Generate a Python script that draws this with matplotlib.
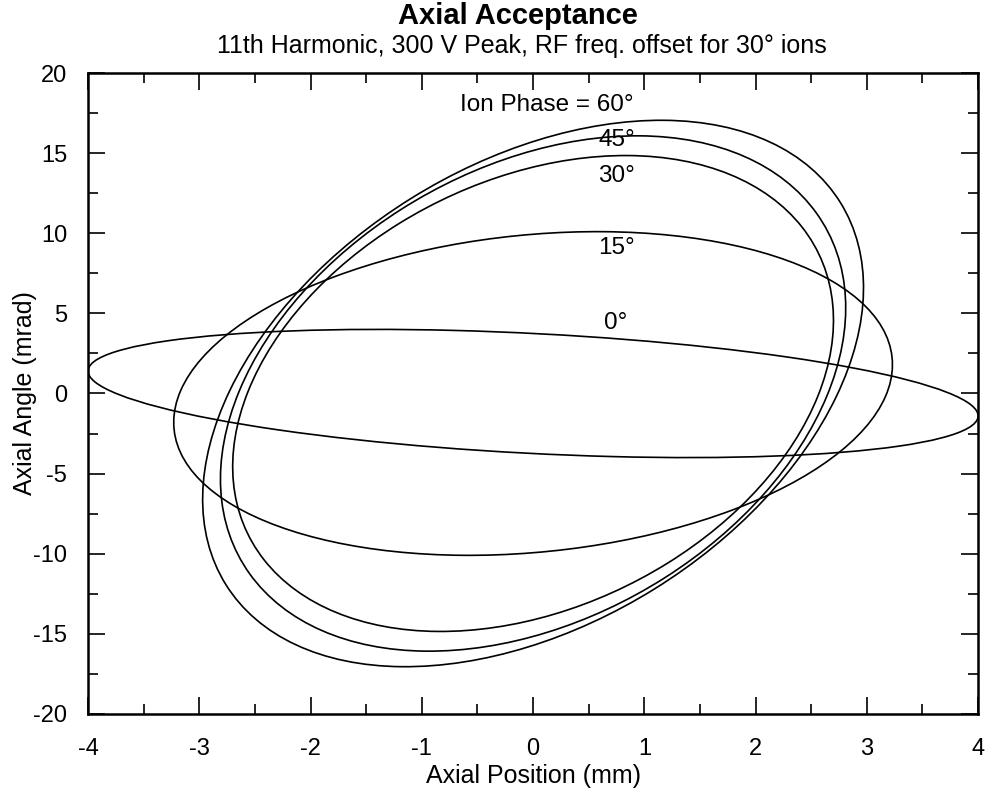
import numpy as np
import matplotlib
matplotlib.use("Agg")
import matplotlib.pyplot as plt
from matplotlib.patches import Ellipse
from matplotlib.ticker import MultipleLocator

plt.rcParams['font.family'] = ['Liberation Sans', 'DejaVu Sans']
plt.rcParams['axes.unicode_minus'] = False

# === Elipses de aceptancia ===
# fase del ion (grados)
fases = [0, 15, 30, 45, 60]
# x maximo (mm), y maximo (mrad), y en el punto de x maximo (mrad)
x_max = [4.00, 3.23, 2.70, 2.81, 2.97]
y_max = [4.00, 10.10, 14.85, 16.08, 17.05]
y_en_xmax = [-1.40, 1.80, 4.57, 5.35, 6.60]
centro_x = [0.0, 0.0, 0.0, 0.0, 0.0]
centro_y = [0.0, 0.0, 0.0, 0.0, 0.0]

etiquetas = ["0°", "15°", "30°", "45°", "Ion Phase = 60°"]
etiqueta_x = [0.74, 0.75, 0.75, 0.75, 0.90]
etiqueta_y = [4.4, 9.05, 13.6, 15.8, 18.0]


def parametros_elipse(a, b, y_a):
    # matriz de la elipse a partir de los extremos
    c = a * y_a
    m = np.array([[a ** 2, c], [c, b ** 2]])
    vals, vecs = np.linalg.eigh(m)
    ancho = 2 * np.sqrt(vals[1])
    alto = 2 * np.sqrt(vals[0])
    ang = np.degrees(np.arctan2(vecs[1, 1], vecs[0, 1]))
    return ancho, alto, ang


fig = plt.figure(figsize=(9.87, 7.98), dpi=100)
ax = fig.add_axes([0.0892, 0.1053, 0.9018, 0.8032])

for i in range(len(fases)):
    w, h, ang = parametros_elipse(x_max[i], y_max[i], y_en_xmax[i])
    e = Ellipse((centro_x[i], centro_y[i]), w, h, angle=ang,
                fill=False, edgecolor='black', linewidth=1.2)
    ax.add_patch(e)

for i in range(len(fases)):
    if i == len(fases) - 1:
        ax.text(etiqueta_x[i], etiqueta_y[i], etiquetas[i], ha='right', va='center', fontsize=17.5)
    else:
        ax.text(etiqueta_x[i], etiqueta_y[i], etiquetas[i], ha='center', va='center', fontsize=17.5)

ax.set_xlim(-4, 4)
ax.set_ylim(-20, 20)
ax.xaxis.set_major_locator(MultipleLocator(1))
ax.xaxis.set_minor_locator(MultipleLocator(0.5))
ax.yaxis.set_major_locator(MultipleLocator(5))
ax.yaxis.set_minor_locator(MultipleLocator(2.5))
ax.tick_params(which='both', direction='in', top=True, right=True, labelsize=17, width=1.2)
ax.tick_params(which='major', length=12)
ax.tick_params(axis='x', which='major', pad=17)
ax.tick_params(axis='y', which='major', pad=15)
ax.tick_params(which='minor', length=7)
for s in ax.spines.values():
    s.set_linewidth(1.8)

ax.set_xlabel("Axial Position (mm)", fontsize=18, labelpad=3)
ax.set_ylabel("Axial Angle (mrad)", fontsize=18, labelpad=-3)

fig.text(0.525, 0.998, "Axial Acceptance", ha='center', va='top', fontsize=21, fontweight='bold')
fig.text(0.529, 0.958, "11th Harmonic, 300 V Peak, RF freq. offset for 30° ions", ha='center', va='top', fontsize=18)

fig.savefig("out.png", dpi=100)
plt.close(fig)
